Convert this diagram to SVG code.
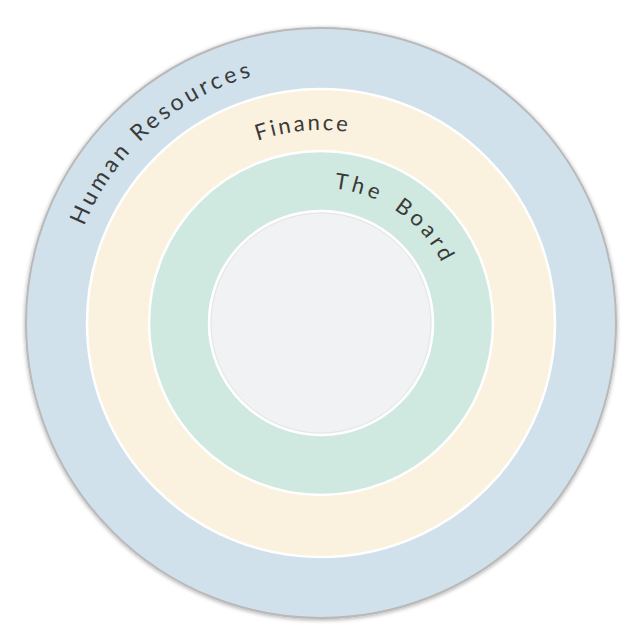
<svg xmlns="http://www.w3.org/2000/svg" width="643" height="643" viewBox="0 0 643 643">
  <defs>
    <style>
      .ring { stroke: #ffffff; stroke-width: 2.5; }
      .label { font-family: "Lato", "Liberation Sans", sans-serif; fill: #3a3a3a; }
    </style>
    <filter id="shadow" x="-10%" y="-10%" width="120%" height="120%">
      <feGaussianBlur in="SourceAlpha" stdDeviation="2"/>
      <feOffset dx="0" dy="1" result="b"/>
      <feComponentTransfer><feFuncA type="linear" slope="0.35"/></feComponentTransfer>
      <feMerge><feMergeNode/><feMergeNode in="SourceGraphic"/></feMerge>
    </filter>
    <path id="arcHR" d="M 65 323 A 256 256 0 0 1 577 323"/>
    <path id="arcFin" d="M 128 323 A 193 193 0 0 1 514 323"/>
    <path id="arcBoard" d="M 186 323 A 135 135 0 0 1 456 323"/>
  </defs>
  <rect width="643" height="643" fill="#ffffff"/>

  <g id="human-resources">
    <circle cx="321" cy="323" r="295" fill="#d0e1eb" stroke="#b9b9b9" stroke-width="2" filter="url(#shadow)"/>
    <text class="label" font-size="23" letter-spacing="3.6"><textPath href="#arcHR" startOffset="217" text-anchor="middle">Human Resources</textPath></text>
  </g>

  <g id="finance">
    <circle class="ring" cx="321" cy="323" r="234" fill="#fbf1df"/>
    <text class="label" font-size="22" letter-spacing="2.6"><textPath href="#arcFin" startOffset="285" text-anchor="middle">Finance</textPath></text>
  </g>

  <g id="the-board">
    <circle class="ring" cx="321" cy="323" r="172" fill="#d0e9e0"/>
    <text class="label" font-size="22" letter-spacing="3.8" word-spacing="6"><textPath href="#arcBoard" startOffset="295" text-anchor="middle">The Board</textPath></text>
  </g>

  <g id="core">
    <circle cx="321" cy="323" r="112" fill="#f1f2f4" stroke="#ffffff" stroke-width="2.5"/>
    <circle cx="321" cy="323" r="110" fill="none" stroke="#e3e5e8" stroke-width="1"/>
  </g>

  <g id="connectors"/>
</svg>
